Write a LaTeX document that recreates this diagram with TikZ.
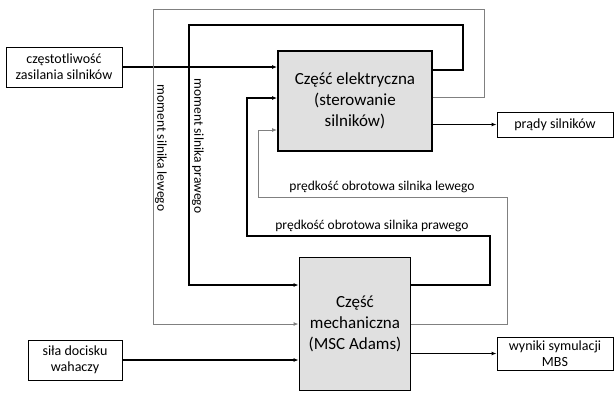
\documentclass[tikz,border=0pt]{standalone}
\usepackage{fontspec}
\setmainfont{Carlito}
\usetikzlibrary{arrows.meta,positioning,calc}
\definecolor{boxgray}{RGB}{224,224,224}
\definecolor{linegray}{RGB}{128,128,128}

\tikzset{
    block/.style={draw, line width=1.8pt, fill=boxgray, align=center,
        font=\fontsize{17}{21}\selectfont, inner sep=0pt},
    iobox/.style={draw, line width=0.9pt, fill=white, align=center,
        font=\fontsize{14}{16}\selectfont, inner sep=0pt},
    lbl/.style={font=\fontsize{13.5}{15}\selectfont, inner sep=0pt},
    conn/.style={line width=1.4pt, -{Latex[length=5pt,width=4pt]}},
    connlite/.style={line width=1pt, draw=linegray, -{Latex[length=5pt,width=4pt]}}
}

\begin{document}
\begin{tikzpicture}[x=1pt, y=-1pt]
\useasboundingbox (0,0) rectangle (614,392);

% === main blocks ===
\node[block, minimum width=154pt, minimum height=100pt] (elec) at (355,101)
    {Część elektryczna\\(sterowanie\\silników)};
\node[block, minimum width=111pt, minimum height=133pt] (mech) at (355,324)
    {Część\\mechaniczna\\(MSC Adams)};

% === inputs / outputs ===
\node[iobox, minimum width=116pt, minimum height=40pt] (freq) at (64,67)
    {częstotliwość\\zasilania silników};
\node[iobox, minimum width=94pt, minimum height=40pt] (force) at (75,360)
    {siła docisku\\wahaczy};
\node[iobox, minimum width=116pt, minimum height=25pt] (curr) at (555,124.5)
    {prądy silników};
\node[iobox, minimum width=116pt, minimum height=33pt] (mbs) at (555,353.5)
    {wyniki symulacji\\MBS};

\draw[conn] (freq.east) -- (freq.east -| elec.west);
\draw[conn] (elec.east |- curr.west) -- (curr.west);
\draw[conn] (force.east) -- (force.east -| mech.west);
\draw[conn] (mech.east |- mbs.west) -- (mbs.west);

% === loop corners ===
\coordinate (mrtop) at (463,25);
\coordinate (mrbot) at (189,285);
\coordinate (mltop) at (484,9);
\coordinate (mlbot) at (153,324);
\coordinate (vrbot) at (490,236);
\coordinate (vrtop) at (247,98);
\coordinate (vlbot) at (507,197);
\coordinate (vltop) at (258,130);

% motor torques: electric -> mechanical
\draw[conn] (elec.east |- 0,70) -| (mrtop) -| (mrbot) -- (mrbot -| mech.west);
\draw[connlite] (elec.east |- 0,97) -| (mltop) -| (mlbot) -- (mlbot -| mech.west);
\node[lbl, rotate=-90] (mrlab) at (198,146) {moment silnika prawego};
\node[lbl, rotate=-90] (mllab) at (161,148) {moment silnika lewego};

% motor speeds: mechanical -> electric
\draw[conn] (mech.east |- mrbot) -| (vrbot) -| (vrtop) -- (vrtop -| elec.west);
\draw[connlite] (mech.east |- mlbot) -| (vlbot) -| (vltop) -- (vltop -| elec.west);
\node[lbl] (vrlab) at (372,226) {prędkość obrotowa silnika prawego};
\node[lbl] (vllab) at (382,187) {prędkość obrotowa silnika lewego};

\end{tikzpicture}
\end{document}
